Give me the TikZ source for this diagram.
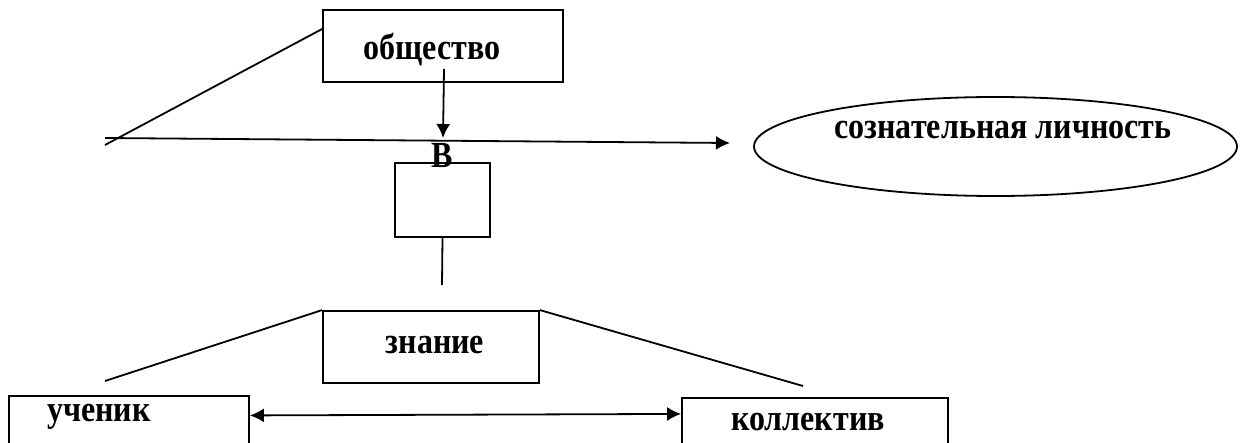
\documentclass[tikz,border=0pt]{standalone}
\usepackage{fontspec}
\setmainfont{Liberation Serif}[FakeStretch=0.87]
\usetikzlibrary{shapes.geometric,arrows.meta}
\tikzset{
    blockbox/.style={draw, line width=0.9pt, inner sep=0pt},
    ovalbox/.style={draw, ellipse, line width=0.9pt, inner sep=0pt},
    word/.style={inner sep=0pt, font=\fontsize{18.4}{22}\selectfont\bfseries},
    link/.style={line width=0.9pt},
    tip/.style={-{Latex[length=7pt,width=7pt]}},
    twotip/.style={{Latex[length=7pt,width=7pt]}-{Latex[length=7pt,width=7pt]}}
}
\begin{document}
\begin{tikzpicture}[x=0.5pt, y=-0.5pt]
        \useasboundingbox (0, 0) rectangle (1242, 443);
        \clip (0, 0) rectangle (1242, 443);
        %draw boxes
        \node[blockbox, minimum width=120pt, minimum height=36pt] (obshchestvo) at (443, 46) {};
        \node[blockbox, minimum width=47.5pt, minimum height=37pt] (vbox) at (442.5, 200) {};
        \node[blockbox, minimum width=108pt, minimum height=36pt] (znanie) at (431, 347) {};
        \node[blockbox, minimum width=120pt, minimum height=30pt] (uchenik) at (129, 426) {};
        \node[blockbox, minimum width=133pt, minimum height=30pt] (kollektiv) at (815, 428) {};
        \node[ovalbox, minimum width=241.5pt, minimum height=49.5pt] (lichnost) at (995.5, 146.5) {};
        %draw texts
        \node[word] (tobshchestvo) at (432, 50) {общество};
        \node[word] (tlichnost) at (1003, 130) {сознательная личность};
        \node[word] (tv) at (442, 156) {В};
        \node[word] (tznanie) at (435, 345) {знание};
        \node[word] (tuchenik) at (99, 417) {ученик};
        \node[word] (tkollektiv) at (808, 422) {коллектив};
        %free ends
        \coordinate (axisstart) at (105, 138);
        \coordinate (axisend) at (730, 143);
        \coordinate (topfoot) at (105, 145);
        \coordinate (drop) at (444, 69);
        \coordinate (dropend) at (443, 138);
        \coordinate (stem) at (442, 285);
        \coordinate (leftfoot) at (105, 381);
        \coordinate (rightfoot) at (803, 386);
        %draw lines
        \draw[link] (obshchestvo.west |- 0, 29) -- (topfoot);
        \draw[link, tip] (axisstart) -- (axisend);
        \draw[link, tip] (drop) -- (dropend);
        \draw[link] (vbox.south) -- (stem);
        \draw[link] (znanie.north west) -- (leftfoot);
        \draw[link] (znanie.north east) -- (rightfoot);
        \draw[link, twotip] (uchenik.5) -- (kollektiv.174);
    \end{tikzpicture}
\end{document}
